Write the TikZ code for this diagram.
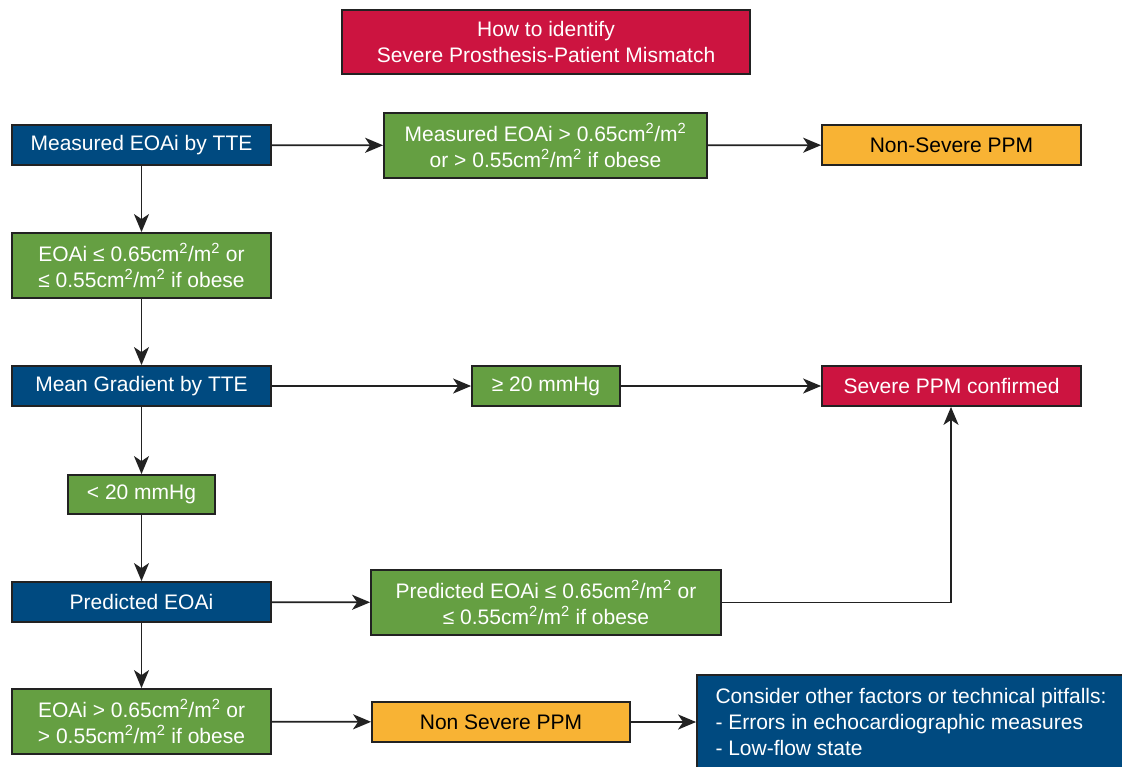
\documentclass[tikz,border=0pt]{standalone}
\usepackage{fontspec}
\setmainfont{Liberation Sans}
\usetikzlibrary{arrows.meta}
\definecolor{cblue}{HTML}{004A80}
\definecolor{cgreen}{HTML}{659F42}
\definecolor{cred}{HTML}{CC1440}
\definecolor{corange}{HTML}{F8B334}
\definecolor{cedge}{HTML}{222222}
\tikzset{
  box/.style={draw=cedge, line width=1.8pt, text=white, font=\fontsize{21}{26}\selectfont, align=center, inner sep=0pt, anchor=center},
  bluebox/.style={box, fill=cblue},
  greenbox/.style={box, fill=cgreen},
  redbox/.style={box, fill=cred},
  orangebox/.style={box, fill=corange, text=black},
  arr/.style={line width=1.8pt, draw=cedge, -{Stealth[length=18pt,width=15pt,inset=5pt]}},
}
\begin{document}
\begin{tikzpicture}[x=1pt,y=-1pt]
\useasboundingbox (0,0) rectangle (1122,766);
\node[redbox, minimum width=408pt, minimum height=64pt] (title) at (546,42) {How to identify\\Severe Prosthesis-Patient Mismatch};
\node[bluebox, minimum width=259pt, minimum height=40pt] (meas) at (141.5,145) {Measured EOAi by TTE};
\node[greenbox, minimum width=323pt, minimum height=65pt] (measgt) at (545.5,145.5) {Measured EOAi > 0.65cm\textsuperscript{2}/m\textsuperscript{2}\\or > 0.55cm\textsuperscript{2}/m\textsuperscript{2} if obese};
\node[orangebox, minimum width=259pt, minimum height=40pt] (nonsev1) at (951.5,145) {Non-Severe PPM};
\node[greenbox, minimum width=259pt, minimum height=65pt] (eoale) at (141.5,265.5) {EOAi ≤ 0.65cm\textsuperscript{2}/m\textsuperscript{2} or\\≤ 0.55cm\textsuperscript{2}/m\textsuperscript{2} if obese};
\node[bluebox, minimum width=259pt, minimum height=40pt] (grad) at (141.5,386) {Mean Gradient by TTE};
\node[greenbox, minimum width=148pt, minimum height=40pt] (ge20) at (546,386) {≥ 20 mmHg};
\node[redbox, minimum width=259pt, minimum height=40pt] (sev) at (951.5,386) {Severe PPM confirmed};
\node[greenbox, minimum width=147pt, minimum height=39pt] (lt20) at (141.5,494.5) {< 20 mmHg};
\node[bluebox, minimum width=259pt, minimum height=40pt] (pred) at (141.5,602) {Predicted EOAi};
\node[greenbox, minimum width=350pt, minimum height=65pt] (predle) at (546,602.5) {Predicted EOAi ≤ 0.65cm\textsuperscript{2}/m\textsuperscript{2} or\\≤ 0.55cm\textsuperscript{2}/m\textsuperscript{2} if obese};
\node[greenbox, minimum width=259pt, minimum height=65pt] (eoagt) at (141.5,721.5) {EOAi > 0.65cm\textsuperscript{2}/m\textsuperscript{2} or\\> 0.55cm\textsuperscript{2}/m\textsuperscript{2} if obese};
\node[orangebox, minimum width=258pt, minimum height=40pt] (nonsev2) at (501,722) {Non Severe PPM};
\node[bluebox, minimum width=428pt, minimum height=94pt, align=left] (consider) at (911,722) {Consider other factors or technical pitfalls:\\- Errors in echocardiographic measures\\- Low-flow state};
\coordinate (corner) at (951,602.5);
\draw[arr] (meas) -- (measgt);
\draw[arr] (measgt) -- (nonsev1);
\draw[arr] (meas) -- (eoale);
\draw[arr] (eoale) -- (grad);
\draw[arr] (grad) -- (ge20);
\draw[arr] (ge20) -- (sev);
\draw[arr] (grad) -- (lt20);
\draw[arr] (lt20) -- (pred);
\draw[arr] (pred) -- (predle);
\draw[arr] (predle.east) -- (corner) -- (sev.south -| corner);
\draw[arr] (pred) -- (eoagt);
\draw[arr] (eoagt) -- (nonsev2);
\draw[arr] (nonsev2) -- (consider.west |- nonsev2);
\end{tikzpicture}
\end{document}
